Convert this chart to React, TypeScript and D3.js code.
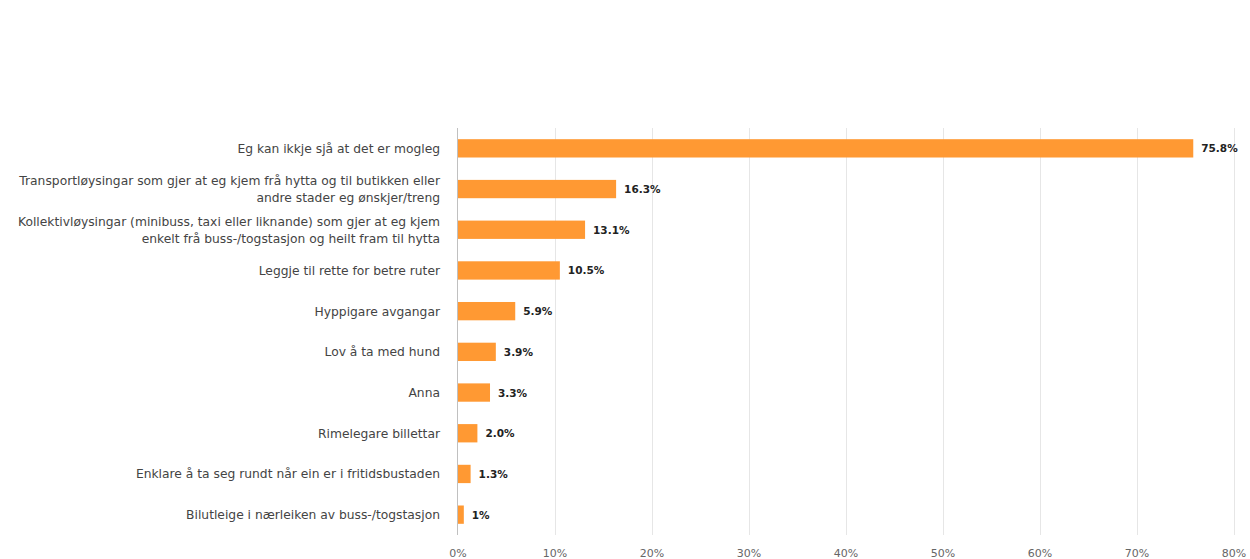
import React from "react";
import * as d3 from "d3";

const categories: string[][] = [
  ["Eg kan ikkje sjå at det er mogleg"],
  ["Transportløysingar som gjer at eg kjem frå hytta og til butikken eller", "andre stader eg ønskjer/treng"],
  ["Kollektivløysingar (minibuss, taxi eller liknande) som gjer at eg kjem", "enkelt frå buss-/togstasjon og heilt fram til hytta"],
  ["Leggje til rette for betre ruter"],
  ["Hyppigare avgangar"],
  ["Lov å ta med hund"],
  ["Anna"],
  ["Rimelegare billettar"],
  ["Enklare å ta seg rundt når ein er i fritidsbustaden"],
  ["Bilutleige i nærleiken av buss-/togstasjon"],
];
const values: number[] = [75.8, 16.3, 13.1, 10.5, 5.9, 3.9, 3.3, 2.0, 1.3, 0.6];
const valueLabels: string[] = ["75.8%", "16.3%", "13.1%", "10.5%", "5.9%", "3.9%", "3.3%", "2.0%", "1.3%", "1%"];
const ticks: number[] = [0, 10, 20, 30, 40, 50, 60, 70, 80];

const W = 1250, H = 559;
const left = 458, right = 1234, top = 128, bottom = 535;

export default function App() {
  const x = d3.scaleLinear().domain([0, 80]).range([left, right]);
  const y = d3.scaleBand<number>().domain(values.map((_, i) => i)).range([top, bottom]).paddingInner(0.55).paddingOuter(0.275);
  const font = "'DejaVu Sans', Verdana, sans-serif";
  return (
    <svg width={W} height={H} style={{ position: "absolute", left: 0, top: 0, background: "#fff" }}>
      {ticks.map((t) => (
        <g key={t}>
          {t > 0 && <line x1={x(t) + 0.5} x2={x(t) + 0.5} y1={top} y2={bottom} stroke="#e6e6e6" strokeWidth={1} />}
          <text x={x(t)} y={557} textAnchor="middle" fontSize={11} fill="#666" fontFamily={font}>{t}%</text>
        </g>
      ))}
      <line x1={left - 0.5} x2={left - 0.5} y1={top} y2={bottom} stroke="#c0c0c0" strokeWidth={1} />
      {values.map((v, i) => {
        const yc = y(i)! + y.bandwidth() / 2;
        const lines = categories[i];
        return (
          <g key={i}>
            <rect x={left} y={y(i)} width={x(v) - left} height={y.bandwidth()} fill="#ff9933" />
            <text x={x(v) + 8} y={yc + 4} fontSize={10.5} fontWeight="bold" fill="#222" fontFamily={font}>{valueLabels[i]}</text>
            <text textAnchor="end" fontSize={12.3} fill="#444" fontFamily={font}>
              {lines.map((l, k) => (
                <tspan key={k} x={440} y={yc + 4.5 + (k - (lines.length - 1) / 2) * 17}>{l}</tspan>
              ))}
            </text>
          </g>
        );
      })}
    </svg>
  );
}
